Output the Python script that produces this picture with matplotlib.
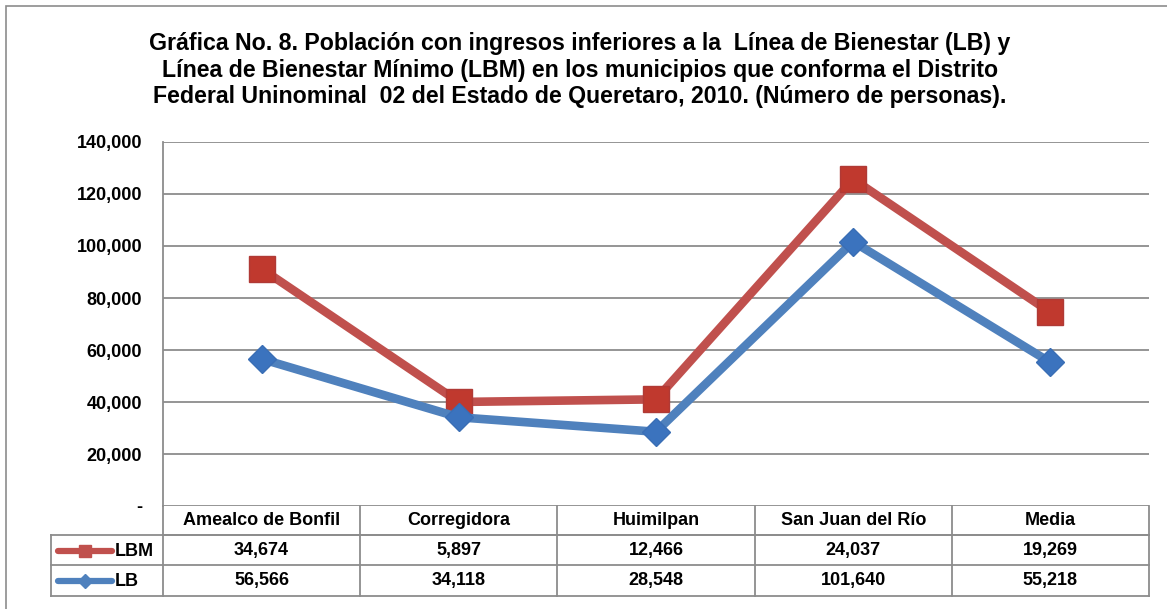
import matplotlib.pyplot as plt
import matplotlib.transforms as mtransforms
from matplotlib.lines import Line2D
from matplotlib.patches import Rectangle

plt.rcParams['font.family'] = ['Liberation Sans', 'DejaVu Sans']

# data
municipios = ['Amealco de Bonfil', 'Corregidora', 'Huimilpan', 'San Juan del Río', 'Media']
lbm = [34674, 5897, 12466, 24037, 19269]
lb = [56566, 34118, 28548, 101640, 55218]
yticks = [0, 20000, 40000, 60000, 80000, 100000, 120000, 140000]

red = '#C0504D'
blue = '#4F81BD'
grid_c = '#8C8C8C'
fs = 13

W, H = 1167, 609
fig = plt.figure(figsize=(W / 100, H / 100), dpi=100)

# outer frame of the chart
fig.patches.append(Rectangle((6 / W, -0.01), 1.2, (609 - 6) / H + 0.01, transform=fig.transFigure,
                             fill=False, edgecolor='#8C8C8C', linewidth=1.2))

left, right, top, bottom = 163, 1149, 142, 506
ax = fig.add_axes([left / W, (H - bottom) / H, (right - left) / W, (bottom - top) / H])

x = list(range(len(municipios)))
# stacked line chart: LBM plotted on top of LB
lbm_stack = [a + b for a, b in zip(lb, lbm)]

ax.plot(x, lbm_stack, color=red, linewidth=6.2, marker='s', markersize=18.5,
        markerfacecolor='#C0392E', markeredgecolor='#B03A36', markeredgewidth=1, zorder=3)
ax.plot(x, lb, color=blue, linewidth=6.2, marker='D', markersize=14,
        markerfacecolor='#3B73BE', markeredgecolor='#3A6EB5', markeredgewidth=1, zorder=4)

ax.set_xlim(-0.5, len(municipios) - 0.5)
ax.set_ylim(0, 140000)
ax.set_yticks(yticks)
ax.set_yticklabels(['-' if v == 0 else f'{v:,}' for v in yticks], fontsize=fs, fontweight='bold')
ax.set_xticks([])
ax.tick_params(axis='y', length=0, pad=15)
ax.grid(axis='y', color=grid_c, linewidth=1.3)
ax.set_axisbelow(True)
for s in ['top', 'right', 'bottom']:
    ax.spines[s].set_visible(False)
ax.spines['left'].set_color(grid_c)
ax.spines['left'].set_linewidth(1.3)

# data table below the plot
trans = mtransforms.blended_transform_factory(ax.transData, ax.transAxes)
ph = bottom - top
r0 = 0
r1 = -29 / ph
r2 = -59 / ph
r3 = -90 / ph
lab_left = -0.5 - (left - 51) / ((right - left) / len(municipios))

lk = dict(color=grid_c, linewidth=1.3, clip_on=False, transform=trans)
ax.add_line(Line2D([-0.5, 4.5], [r1, r1], **lk))
ax.add_line(Line2D([lab_left, 4.5], [r1, r1], **lk))
ax.add_line(Line2D([lab_left, 4.5], [r2, r2], **lk))
ax.add_line(Line2D([lab_left, 4.5], [r3, r3], **lk))
ax.add_line(Line2D([lab_left, lab_left], [r1, r3], **lk))
for i in range(len(municipios) + 1):
    ax.add_line(Line2D([i - 0.5, i - 0.5], [r0, r3], **lk))

for i, name in enumerate(municipios):
    ax.text(i, (r0 + r1) / 2, name, transform=trans, ha='center', va='center',
            fontsize=fs, fontweight='bold')
    ax.text(i, (r1 + r2) / 2, f'{lbm[i]:,}', transform=trans, ha='center', va='center',
            fontsize=fs, fontweight='bold')
    ax.text(i, (r2 + r3) / 2, f'{lb[i]:,}', transform=trans, ha='center', va='center',
            fontsize=fs, fontweight='bold')

# legend keys inside the table
fx = lambda px: px / W
fy = lambda py: (H - py) / H
for ypx, col, mk, ms, lab in [(551, red, 's', 8, 'LBM'), (581, blue, 'D', 7, 'LB')]:
    fig.add_artist(Line2D([fx(58), fx(112)], [fy(ypx), fy(ypx)], color=col, linewidth=4.5,
                          solid_capstyle='round', transform=fig.transFigure))
    fig.add_artist(Line2D([fx(85)], [fy(ypx)], color=col, marker=mk, markersize=ms,
                          transform=fig.transFigure))
    fig.text(fx(115), fy(ypx), lab, ha='left', va='center', fontsize=fs, fontweight='bold')

fig.text(0.497, fy(70),
         'Gráfica No. 8. Población con ingresos inferiores a la  Línea de Bienestar (LB) y\n'
         'Línea de Bienestar Mínimo (LBM) en los municipios que conforma el Distrito\n'
         'Federal Uninominal  02 del Estado de Queretaro, 2010. (Número de personas).',
         ha='center', va='center', fontsize=16.7, fontweight='bold', linespacing=1.22)

fig.savefig('out.png', dpi=100, facecolor='w')
plt.close('all')
